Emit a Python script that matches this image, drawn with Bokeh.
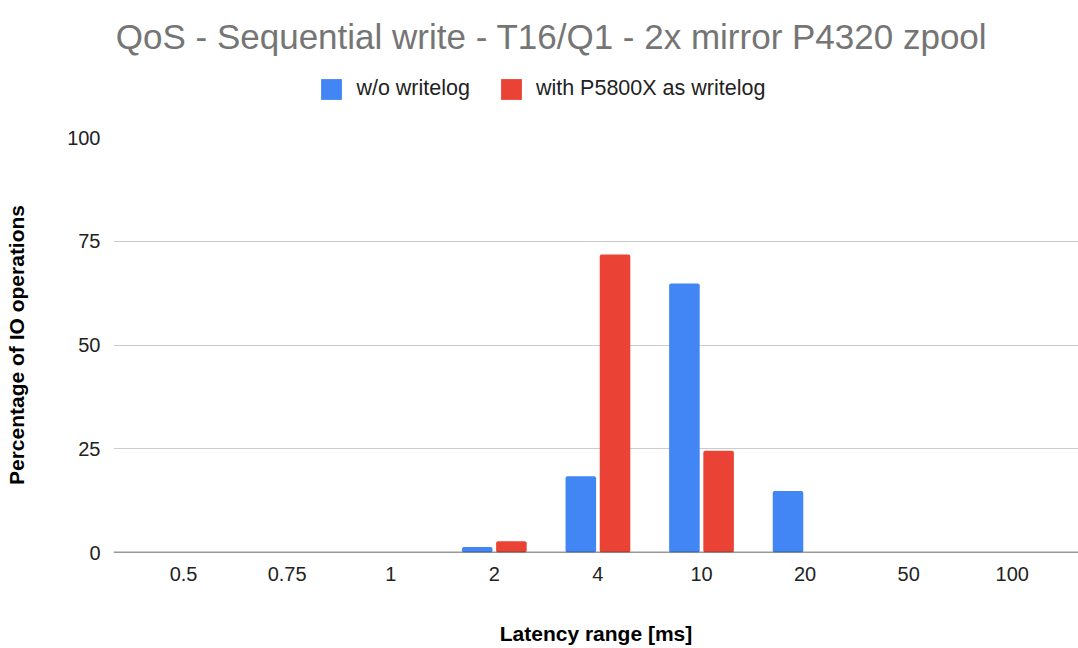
from bokeh.plotting import figure
from bokeh.models import (Range1d, FixedTicker, Legend, LegendItem, Span, Label,
                          ColumnDataSource)
from bokeh.layouts import column
from bokeh.transform import dodge
from bokeh.embed import file_html
from bokeh.resources import INLINE

# ---- data ----
categories = ["0.5", "0.75", "1", "2", "4", "10", "20", "50", "100"]
without_writelog = [0, 0, 0, 1.3, 18.4, 64.8, 14.8, 0, 0]
with_p5800x = [0, 0, 0, 2.7, 71.8, 24.5, 0, 0, 0]
y_ticks = [0, 25, 50, 75, 100]
series_names = ["w/o writelog", "with P5800X as writelog"]
title_text = "QoS - Sequential write - T16/Q1 - 2x mirror P4320 zpool"

BLUE = "#4285F4"
RED = "#EA4335"
FONT = "Liberation Sans"

idx = list(range(len(categories)))
src = ColumnDataSource(dict(x=idx, blue=without_writelog, red=with_p5800x))

LEFT = 113
HEADER_H = 118

# ---------------- header: title + legend ----------------
hdr = figure(width=1078, height=HEADER_H, output_backend="svg",
             toolbar_location=None, x_range=Range1d(0, 965),
             y_range=Range1d(1000, 1000 + HEADER_H), x_axis_location=None,
             y_axis_location=None, min_border_left=LEFT, min_border_right=0,
             min_border_top=0, min_border_bottom=0, title=None)
hdr.outline_line_color = None
hdr.grid.visible = False

hdr.add_layout(Label(x=551 - LEFT, y=HEADER_H - 36, x_units="screen",
                     y_units="screen", text=title_text,
                     text_align="center", text_baseline="alphabetic",
                     text_font=FONT, text_font_size="35px",
                     text_color="#757575"))

# legend keys (same series, outside the header's visible range)
kb = hdr.vbar(x="x", top="blue", width=0.3, source=src,
              fill_color=BLUE, line_color=None)
kr = hdr.vbar(x="x", top="red", width=0.3, source=src,
              fill_color=RED, line_color=None)

legend = Legend(items=[LegendItem(label=series_names[0], renderers=[kb]),
                       LegendItem(label=series_names[1], renderers=[kr])],
                location=(318.4 - LEFT, HEADER_H - 101.5),
                orientation="horizontal",
                glyph_width=26, glyph_height=26, label_standoff=12, spacing=28,
                padding=0, margin=0, border_line_color=None,
                background_fill_alpha=0,
                label_text_font=FONT, label_text_font_size="21.5px",
                label_text_color="#222222")
hdr.add_layout(legend, "center")

# ---------------- main chart ----------------
p = figure(width=1078, height=648 - HEADER_H, output_backend="svg",
           toolbar_location=None,
           x_range=Range1d(-0.676, 8.639), y_range=Range1d(0, 100),
           min_border_left=LEFT, min_border_right=0,
           min_border_top=137 - HEADER_H, min_border_bottom=96, title=None)
p.outline_line_color = None
p.background_fill_color = "white"

off = 0.165
bw = 0.295
rb = p.vbar(x=dodge("x", -off), top="blue", width=bw, source=src,
            fill_color=BLUE, line_color=None, border_radius=2)
rr = p.vbar(x=dodge("x", off), top="red", width=bw, source=src,
            fill_color=RED, line_color=None, border_radius=2)

p.xaxis.ticker = FixedTicker(ticks=idx)
p.xaxis.major_label_overrides = {i: c for i, c in zip(idx, categories)}
p.yaxis.ticker = FixedTicker(ticks=y_ticks)
for ax in (p.xaxis[0], p.yaxis[0]):
    ax.axis_line_color = None
    ax.major_tick_line_color = None
    ax.minor_tick_line_color = None
    ax.major_tick_out = 0
    ax.major_tick_in = 0
    ax.minor_tick_out = 0
    ax.major_label_text_font = FONT
    ax.major_label_text_font_size = "20px"
    ax.major_label_text_color = "#222222"
    ax.axis_label_text_font = FONT
    ax.axis_label_text_font_size = "21px"
    ax.axis_label_text_font_style = "bold"
    ax.axis_label_text_color = "#000000"

p.xaxis.axis_label = "Latency range [ms]"
p.yaxis.axis_label = "Percentage of IO operations"
p.xaxis.major_label_standoff = 14
p.xaxis.axis_label_standoff = 38
p.yaxis.major_label_standoff = 13
p.yaxis.axis_label_standoff = 36

p.xgrid.grid_line_color = None
p.ygrid.grid_line_color = "#cccccc"
p.ygrid.grid_line_width = 1

p.add_layout(Span(location=0, dimension="width", line_color="#333333",
                  line_width=1.6))

layout = column(hdr, p, spacing=0)
open("out.html", "w").write(file_html(layout, INLINE))
